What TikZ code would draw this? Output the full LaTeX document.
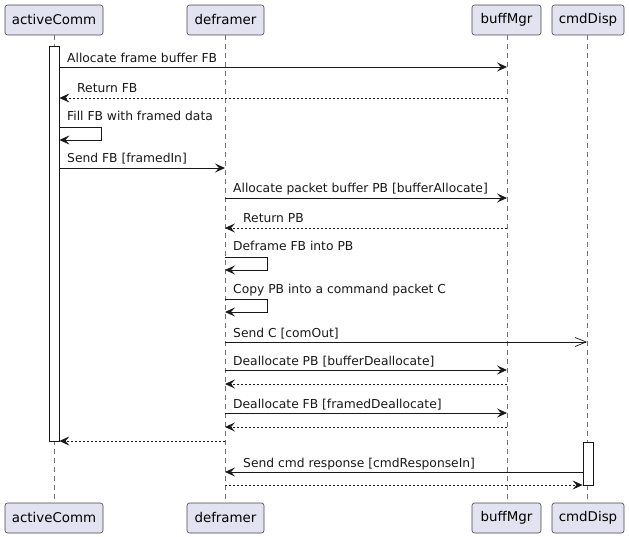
\documentclass[tikz,border=0pt]{standalone}
\usepackage{fontspec}
\setmainfont{DejaVu Sans}
\usetikzlibrary{arrows.meta}
\definecolor{partfill}{HTML}{E2E2F0}
\definecolor{ink}{HTML}{181818}
\begin{document}
\begin{tikzpicture}[x=1pt,y=-1pt,
  part/.style={draw=ink!80, fill=partfill, rounded corners=2.5pt, minimum height=30pt, inner sep=0pt, font=\fontsize{13.4}{16}\selectfont, line width=0.6pt},
  life/.style={draw=ink!60, dash pattern=on 5pt off 4pt, line width=0.6pt},
  bar/.style={draw=ink, fill=white, line width=0.8pt, inner sep=0pt, minimum width=10pt},
  tip/.style={-{Stealth[length=10pt,width=9pt,inset=4pt]}},
  msg/.style={draw=ink, line width=0.8pt, tip},
  ret/.style={draw=ink, line width=0.8pt, dash pattern=on 2pt off 2pt, tip},
  asyn/.style={draw=ink, line width=0.8pt, -{Straight Barb[length=11pt,width=9pt,line width=0.7pt]}},
  lbl/.style={anchor=base west, inner sep=0pt, font=\fontsize{12.3}{14}\selectfont, text=ink}]
\useasboundingbox (0,0) rectangle (629,537);
% participants
\node[part, minimum width=98pt] (pA) at (54,20) {activeComm};
\node[part, minimum width=77pt] (pD) at (225.5,20) {deframer};
\node[part, minimum width=69pt] (pB) at (506.5,20) {buffMgr};
\node[part, minimum width=72pt] (pC) at (588,20) {cmdDisp};
\node[part, minimum width=98pt] (qA) at (54,518) {activeComm};
\node[part, minimum width=77pt] (qD) at (225.5,518) {deframer};
\node[part, minimum width=69pt] (qB) at (506.5,518) {buffMgr};
\node[part, minimum width=72pt] (qC) at (588,518) {cmdDisp};
% lifelines
\coordinate (lA) at (54,0); \coordinate (lD) at (225,0);
\coordinate (lB) at (507,0); \coordinate (lC) at (587,0);
\draw[life] (lA |- pA.south) -- (lA |- qA.north);
\draw[life] (lD |- pD.south) -- (lD |- qD.north);
\draw[life] (lB |- pB.south) -- (lB |- qB.north);
\draw[life] (lC |- pC.south) -- (lC |- qC.north);
% activation bars
\node[bar, minimum height=395pt] (barA) at (54,243.5) {};
\node[bar, minimum height=43pt] (barC) at (588,463.5) {};
% messages
\draw[msg] (barA.east |- 0,67) -- (lB |- 0,67);
\node[lbl] at (67,63) {Allocate frame buffer FB};
\draw[ret] (lB |- 0,98) -- (barA.east |- 0,98);
\node[lbl] at (77,93) {Return FB};
\draw[msg] (barA.east |- 0,127) -- (101,127) -- (101,140) -- (barA.east |- 0,140);
\node[lbl] at (67,121) {Fill FB with framed data};
\draw[msg] (barA.east |- 0,168) -- (lD |- 0,168);
\node[lbl] at (67,163) {Send FB [framedIn]};
\draw[msg] (lD |- 0,198) -- (lB |- 0,198);
\node[lbl] at (233,193) {Allocate packet buffer PB [bufferAllocate]};
\draw[ret] (lB |- 0,228) -- (lD |- 0,228);
\node[lbl] at (243,223) {Return PB};
\draw[msg] (lD |- 0,257) -- (267,257) -- (267,270) -- (lD |- 0,270);
\node[lbl] at (233,251) {Deframe FB into PB};
\draw[msg] (lD |- 0,299) -- (267,299) -- (267,312) -- (lD |- 0,312);
\node[lbl] at (233,294) {Copy PB into a command packet C};
\draw[asyn] (lD |- 0,342) -- (lC |- 0,342);
\node[lbl] at (233,337) {Send C [comOut]};
\draw[msg] (lD |- 0,370) -- (lB |- 0,370);
\node[lbl] at (233,365) {Deallocate PB [bufferDeallocate]};
\draw[ret] (lB |- 0,384) -- (lD |- 0,384);
\draw[msg] (lD |- 0,413) -- (lB |- 0,413);
\node[lbl] at (233,408) {Deallocate FB [framedDeallocate]};
\draw[ret] (lB |- 0,427) -- (lD |- 0,427);
\draw[ret] (lD |- 0,441) -- (barA.east |- 0,441);
\draw[msg] (barC.west |- 0,472) -- (lD |- 0,472);
\node[lbl] at (243,467) {Send cmd response [cmdResponseIn]};
\draw[ret] (lD |- 0,485) -- (barC.west |- 0,485);
\end{tikzpicture}
\end{document}
